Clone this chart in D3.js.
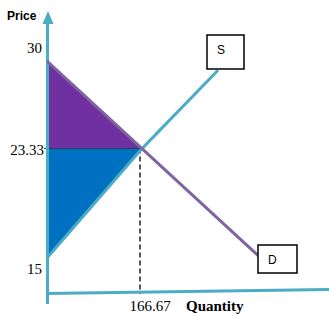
<!DOCTYPE html>
<html>
<head>
<meta charset="utf-8">
<script src="https://cdn.jsdelivr.net/npm/d3@7"></script>
<style>
body{margin:0;background:#fff;}
svg{display:block;}
</style>
</head>
<body>
<svg id="chart" width="329" height="317"></svg>
<script>
// values
var demandQ = [0, 166.67, 370];
var demandP = [30, 23.33, 15.2];
var supplyQ = [0, 166.67, 300];
var supplyP = [15, 23.33, 29.3];
var eqQ = 166.67, eqP = 23.33;
var priceTicks = [30, 23.33, 15];
var qtyTicks = [166.67];

var svg = d3.select("#chart");
var x = d3.scaleLinear().domain([0, 166.67]).range([47, 142]);
var y = d3.scaleLinear().domain([15, 30]).range([258, 61]);

function pts(qs, ps){ return qs.map(function(q,i){ return [x(q), y(ps[i])]; }); }
var line = d3.line();

// consumer surplus (purple) and producer surplus (blue)
svg.append("path")
	.attr("d", line([[x(0),y(demandP[0])],[x(eqQ),y(eqP)],[x(0),y(eqP)]]) + "Z")
	.attr("fill","#7030A0");
svg.append("path")
	.attr("d", line([[x(0),y(eqP)],[x(eqQ),y(eqP)],[x(0),y(supplyP[0])]]) + "Z")
	.attr("fill","#0070C0");
svg.append("line")
	.attr("x1",44).attr("x2",x(eqQ)).attr("y1",y(eqP)).attr("y2",y(eqP))
	.attr("stroke","#1f3b5a").attr("stroke-width",1);

// dashed drop line
svg.append("line")
	.attr("x1",x(eqQ)-2).attr("x2",x(eqQ)-2).attr("y1",y(eqP)).attr("y2",294)
	.attr("stroke","#000").attr("stroke-width",1.3).attr("stroke-dasharray","5,3");

// axes
svg.append("line").attr("x1",47.5).attr("x2",47.5).attr("y1",22).attr("y2",304)
	.attr("stroke","#4BACC6").attr("stroke-width",3);
svg.append("path").attr("d","M48,11L42.5,24L53.5,24Z").attr("fill","#4BACC6");
svg.append("line").attr("x1",46).attr("x2",329).attr("y1",293.5).attr("y2",289.5)
	.attr("stroke","#4BACC6").attr("stroke-width",3);

// supply & demand
svg.append("path").attr("d", line(pts(supplyQ, supplyP)))
	.attr("fill","none").attr("stroke","#4BACC6").attr("stroke-width",3);
svg.append("path").attr("d", line(pts(demandQ, demandP)))
	.attr("fill","none").attr("stroke","#8064A2").attr("stroke-width",3);

// tick labels
svg.selectAll(".ptick").data(priceTicks).enter().append("text")
	.attr("class","ptick")
	.attr("x", function(d){ return d==23.33 ? 44 : 42; })
	.attr("y", function(d){ return d==30 ? 53 : (d==15 ? 274 : 155); })
	.attr("text-anchor","end")
	.attr("font-family","Liberation Serif, Times New Roman, serif")
	.attr("font-size",15)
	.text(function(d){ return d; });
svg.selectAll(".qtick").data(qtyTicks).enter().append("text")
	.attr("class","qtick")
	.attr("x", function(d){ return x(d)+8; }).attr("y",311)
	.attr("text-anchor","middle")
	.attr("font-family","Liberation Serif, Times New Roman, serif")
	.attr("font-size",15)
	.text(function(d){ return d; });

svg.append("text").attr("x",186).attr("y",311)
	.attr("font-family","Liberation Serif, Times New Roman, serif")
	.attr("font-size",15).attr("font-weight","bold").text("Quantity");
svg.append("text").attr("x",7).attr("y",20)
	.attr("font-family","Liberation Sans, Arial, sans-serif")
	.attr("font-size",12).attr("font-weight","bold").text("Price");

// S and D boxes
var boxes = [{t:"S", x:207, y:35, w:37, h:34}, {t:"D", x:258, y:245, w:39, h:28}];
boxes.forEach(function(b){
	svg.append("rect").attr("x",b.x).attr("y",b.y).attr("width",b.w).attr("height",b.h)
		.attr("fill","#fff").attr("stroke","#000").attr("stroke-width",1.5);
	svg.append("text").attr("x",b.x+10).attr("y",b.y+ (b.t=="S" ? 19 : 19))
		.attr("font-family","Liberation Sans, Arial, sans-serif")
		.attr("font-size",12).text(b.t);
});
</script>
</body>
</html>
